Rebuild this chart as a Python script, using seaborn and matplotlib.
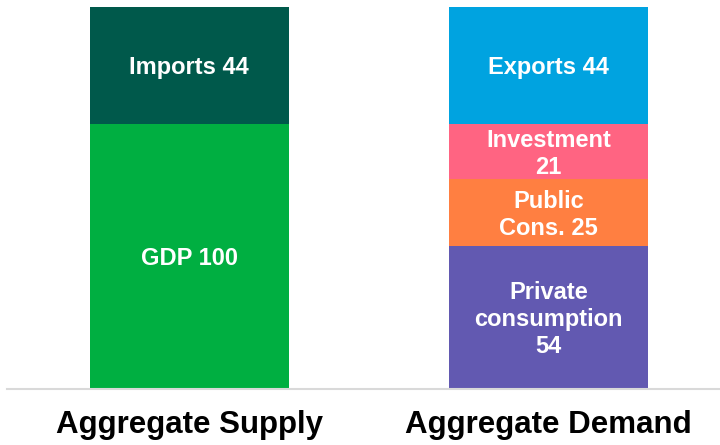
import matplotlib
matplotlib.use("Agg")
import matplotlib.pyplot as plt
import pandas as pd
import seaborn as sns

# Aggregate supply vs aggregate demand (index, GDP = 100)
SIDES = ["Aggregate Supply", "Aggregate Demand"]

SUPPLY_PARTS = ["GDP 100", "Imports 44"]
SUPPLY_VALUES = [100, 44]
SUPPLY_COLORS = ["#00AF41", "#00594B"]

DEMAND_PARTS = ["Private\nconsumption\n54", "Public\nCons. 25", "Investment\n21", "Exports 44"]
DEMAND_VALUES = [54, 25, 21, 44]
DEMAND_COLORS = ["#6259B1", "#FF7F41", "#FF6482", "#00A3E0"]

sns.set_theme(style="white")
plt.rcParams["font.family"] = ["Liberation Sans", "DejaVu Sans"]

fig = plt.figure(figsize=(7.2, 4.45), dpi=100)
ax = fig.add_axes([7 / 720, 56 / 445, 713 / 720, 382 / 445])

# build segment table: bottom-to-top per side
rows = []
for side, parts, vals, cols in [(SIDES[0], SUPPLY_PARTS, SUPPLY_VALUES, SUPPLY_COLORS),
                                (SIDES[1], DEMAND_PARTS, DEMAND_VALUES, DEMAND_COLORS)]:
    base = 0
    for p, v, c in zip(parts, vals, cols):
        rows.append({"side": side, "label": p, "bottom": base, "top": base + v, "color": c})
        base += v
seg = pd.DataFrame(rows)

# stack by overdrawing: tallest cumulative first
width = 199 / 359
for _, r in seg.sort_values("top", ascending=False).iterrows():
    sns.barplot(x=[r["side"]], y=[r["top"]], order=SIDES, color=r["color"],
                width=width, saturation=1, ax=ax, linewidth=0)

for _, r in seg.iterrows():
    xpos = SIDES.index(r["side"])
    ax.text(xpos, (r["bottom"] + r["top"]) / 2 - 0.8, r["label"], ha="center", va="center",
            color="white", fontsize=17, fontweight="bold", linespacing=1.22)

ax.set_xlim(-0.508, -0.508 + 713 / 359)
ax.set_ylim(0, 144)
ax.set_yticks([])
ax.set_xlabel("")
ax.set_ylabel("")
ax.tick_params(axis="x", length=0, pad=15)
for lab in ax.get_xticklabels():
    lab.set_fontsize(22.5)
    lab.set_fontweight("bold")
    lab.set_color("black")
for s in ["top", "left", "right"]:
    ax.spines[s].set_visible(False)
ax.spines["bottom"].set_color("#D9D9D9")
ax.spines["bottom"].set_linewidth(1.5)

fig.savefig("out.png", dpi=100)
